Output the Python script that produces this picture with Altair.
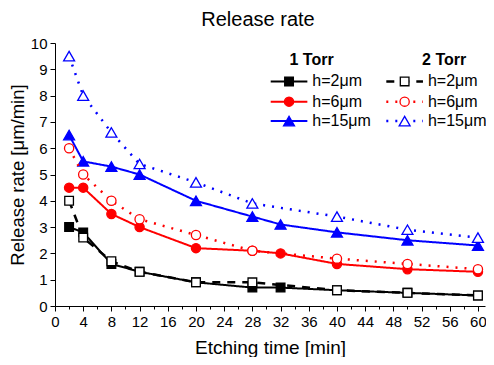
import altair as alt
import pandas as pd

# ---- data ----
t_1torr = [2, 4, 8, 12, 20, 28, 32, 40, 50, 60]
h2_1torr = [3.0, 2.8, 1.6, 1.3, 0.9, 0.7, 0.7, 0.6, 0.5, 0.4]
h6_1torr = [4.5, 4.5, 3.5, 3.0, 2.2, 2.1, 2.0, 1.6, 1.4, 1.3]
h15_1torr = [6.5, 5.5, 5.3, 5.0, 4.0, 3.4, 3.1, 2.8, 2.5, 2.3]

t_2torr = [2, 4, 8, 12, 20, 28, 40, 50, 60]
h2_2torr = [4.0, 2.6, 1.7, 1.3, 0.9, 0.9, 0.6, 0.5, 0.4]
h6_2torr = [6.0, 5.0, 4.0, 3.3, 2.7, 2.1, 1.8, 1.6, 1.4]
h15_2torr = [9.5, 8.0, 6.6, 5.4, 4.7, 3.9, 3.4, 2.9, 2.6]

labels = ["h=2μm", "h=6μm", "h=15μm"]
groups = ["1 Torr", "2 Torr"]

rows = []
for g, t, vals in [("1 Torr", t_1torr, [h2_1torr, h6_1torr, h15_1torr]),
                   ("2 Torr", t_2torr, [h2_2torr, h6_2torr, h15_2torr])]:
    for lab, v in zip(labels, vals):
        for ti, vi in zip(t, v):
            rows.append({"time": ti, "rate": vi, "series": f"{g} {lab}"})
df = pd.DataFrame(rows)

# ---- styles ----
FONT = "Liberation Sans"
colors = {"h=2μm": "black", "h=6μm": "#ff0000", "h=15μm": "#0000ff"}
shapes = {"h=2μm": "square", "h=6μm": "circle", "h=15μm": "triangle-up"}
sizes = {"h=2μm": 75, "h=6μm": 85, "h=15μm": 120}
dashes = {("1 Torr", "h=2μm"): [1, 0], ("1 Torr", "h=6μm"): [1, 0], ("1 Torr", "h=15μm"): [1, 0],
          ("2 Torr", "h=2μm"): [8, 7], ("2 Torr", "h=6μm"): [2, 7], ("2 Torr", "h=15μm"): [2, 7]}

xscale = alt.Scale(domain=[0, 61], nice=False)
yscale = alt.Scale(domain=[0, 10], nice=False)

xaxis = alt.Axis(values=list(range(0, 61, 2)),
                 labelExpr="datum.value % 4 === 0 ? datum.label : ''",
                 tickSize={"condition": {"test": "datum.value % 4 === 0", "value": 5}, "value": 3},
                 title="Etching time [min]", grid=False, labelFlush=False, labelOverlap=False,
                 labelFontSize=15, titleFontSize=19, titleFontWeight="normal",
                 domainColor="black", tickColor="black", labelColor="black", titleColor="black",
                 labelPadding=3, titlePadding=9)
yaxis = alt.Axis(values=list(range(0, 11)), title="Release rate [μm/min]", grid=False,
                 labelFontSize=15, titleFontSize=18.5, titleFontWeight="normal", tickSize=5,
                 domainColor="black", tickColor="black", labelColor="black", titleColor="black",
                 labelPadding=3, titlePadding=3)

enc_x = alt.X("time:Q", scale=xscale, axis=xaxis)
enc_y = alt.Y("rate:Q", scale=yscale, axis=yaxis)

layers = []
for g in groups:
    for lab in labels:
        s = f"{g} {lab}"
        base = alt.Chart(df).transform_filter(alt.datum.series == s)
        line = base.mark_line(color=colors[lab], strokeWidth=2 if g == "1 Torr" else 2.5,
                              strokeDash=dashes[(g, lab)]).encode(x=enc_x, y=enc_y)
        filled = g == "1 Torr"
        pts = base.mark_point(shape=shapes[lab], size=sizes[lab], filled=True,
                              fill=colors[lab] if filled else "white",
                              stroke=colors[lab], strokeWidth=1.3, opacity=1
                              ).encode(x=enc_x, y=enc_y)
        layers += [line, pts]

# ---- custom legend, placed in data units so it follows the plot scales ----
leg_x0 = {"1 Torr": 30.6, "2 Torr": 47.0}
leg_rows_y = [8.54, 7.77, 7.03]
leg_rows = []
for g in groups:
    for li, lab in enumerate(labels):
        x0 = leg_x0[g]
        leg_rows.append({"group": g, "label": lab, "x0": x0, "x1": x0 + 5.2, "xm": x0 + 2.6,
                         "xt": x0 + 5.9, "y": leg_rows_y[li]})
leg = pd.DataFrame(leg_rows)
for g in groups:
    for lab in labels:
        b = alt.Chart(leg).transform_filter((alt.datum.group == g) & (alt.datum.label == lab))
        layers.append(b.mark_rule(color=colors[lab], strokeWidth=2 if g == "1 Torr" else 2.5,
                                  strokeDash=dashes[(g, lab)]).encode(
            x=alt.X("x0:Q", scale=xscale, axis=xaxis), x2="x1:Q",
            y=alt.Y("y:Q", scale=yscale, axis=yaxis)))
        layers.append(b.mark_point(shape=shapes[lab], size=sizes[lab], filled=True,
                                   fill=colors[lab] if g == "1 Torr" else "white",
                                   stroke=colors[lab], strokeWidth=1.3, opacity=1).encode(
            x=alt.X("xm:Q", scale=xscale, axis=xaxis), y=alt.Y("y:Q", scale=yscale, axis=yaxis)))
        layers.append(b.mark_text(align="left", baseline="middle", fontSize=16, color="black",
                                  font=FONT).encode(
            x=alt.X("xt:Q", scale=xscale, axis=xaxis), y=alt.Y("y:Q", scale=yscale, axis=yaxis),
            text="label:N"))

hdr = pd.DataFrame({"group": groups, "x": [36.4, 55.2], "y": [9.34, 9.34]})
layers.append(alt.Chart(hdr).mark_text(fontSize=16, fontWeight="bold", color="black",
                                       font=FONT, baseline="middle").encode(
    x=alt.X("x:Q", scale=xscale, axis=xaxis), y=alt.Y("y:Q", scale=yscale, axis=yaxis),
    text="group:N"))

chart = alt.layer(*layers).properties(
    width=478, height=349,
    autosize=alt.AutoSizeParams(type="fit", contains="padding"),
    title=alt.TitleParams("Release rate", fontSize=20, fontWeight="normal", anchor="middle",
                          color="black", font=FONT, offset=6, dx=-12),
    padding={"left": 0, "top": 2, "right": 0, "bottom": 0},
).configure_view(stroke=None).configure_axis(labelFont=FONT, titleFont=FONT)

chart.save("out.html", embed_options={"renderer": "svg", "actions": False})
